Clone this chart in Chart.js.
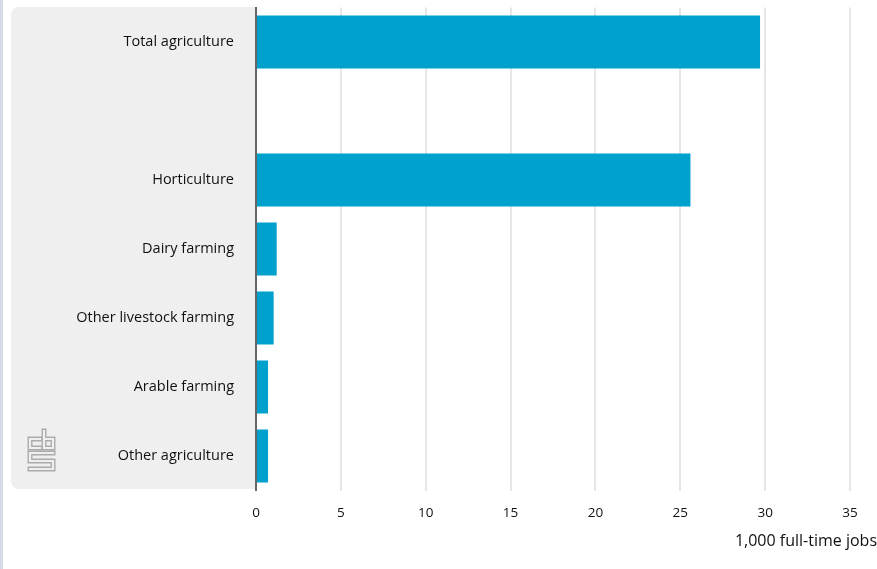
<!DOCTYPE html>
<html>
<head>
<meta charset="utf-8">
<script src="https://cdn.jsdelivr.net/npm/chart.js@4/dist/chart.umd.min.js"></script>
<style>
html,body{margin:0;padding:0;background:#fff;}
#wrap{width:877px;height:569px;position:relative;}
</style>
</head>
<body>
<div id="wrap"><canvas id="c" width="877" height="569"></canvas></div>
<script>
const categories = ['Total agriculture', '', 'Horticulture', 'Dairy farming', 'Other livestock farming', 'Arable farming', 'Other agriculture'];
const jobs = [29.7, null, 25.6, 1.22, 1.04, 0.71, 0.71];
const xTicks = [0, 5, 10, 15, 20, 25, 30, 35];
const axisTitle = '1,000 full-time jobs';

const FONT = '"Open Sans", Lato, sans-serif';

const decor = {
  id: 'decor',
  beforeDraw(chart) {
    const ctx = chart.ctx, a = chart.chartArea;
    ctx.save();
    // left stripe
    ctx.fillStyle = '#d3dce4';
    ctx.fillRect(0, 0, 3, chart.height);
    // gray label panel
    const x0 = 11, y0 = a.top - 0.5, x1 = a.left, y1 = a.bottom - 1.5, r = 8;
    ctx.fillStyle = '#efefef';
    ctx.beginPath();
    ctx.moveTo(x0 + r, y0);
    ctx.lineTo(x1, y0);
    ctx.lineTo(x1, y1);
    ctx.lineTo(x0 + r, y1);
    ctx.arcTo(x0, y1, x0, y1 - r, r);
    ctx.lineTo(x0, y0 + r);
    ctx.arcTo(x0, y0, x0 + r, y0, r);
    ctx.closePath();
    ctx.fill();
    // cbs logo
    const paths = [
      [[40,439],[30,439],[30,448],[40,448]],
      [[44,431],[44,448],[53,448],[53,439],[44,439]],
      [[53,453],[30,453],[30,461],[53,461],[53,469],[30,469]]
    ];
    ctx.lineJoin = 'miter';
    ctx.lineCap = 'square';
    [[ '#ababab', 5 ], [ '#efefef', 2.2 ]].forEach(([col, w]) => {
      ctx.strokeStyle = col; ctx.lineWidth = w;
      paths.forEach(p => {
        ctx.beginPath();
        p.forEach((pt, i) => i ? ctx.lineTo(pt[0], pt[1]) : ctx.moveTo(pt[0], pt[1]));
        ctx.stroke();
      });
    });
    ctx.restore();
  },
  afterDraw(chart) {
    const ctx = chart.ctx;
    ctx.save();
    ctx.font = '16px ' + FONT;
    ctx.fillStyle = '#111';
    ctx.textAlign = 'right';
    ctx.textBaseline = 'middle';
    ctx.fillText(axisTitle, 877, 541);
    ctx.restore();
  }
};

new Chart(document.getElementById('c'), {
  type: 'bar',
  data: {
    labels: categories,
    datasets: [{
      data: jobs,
      backgroundColor: '#00a1cd',
      borderWidth: 0,
      barPercentage: 0.77,
      categoryPercentage: 1
    }]
  },
  options: {
    indexAxis: 'y',
    responsive: false,
    animation: false,
    events: [],
    layout: { padding: { top: 7.5, right: 27, bottom: 0, left: 0 } },
    plugins: { legend: { display: false }, tooltip: { enabled: false } },
    scales: {
      x: {
        min: 0, max: 35,
        afterBuildTicks(s) { s.ticks = xTicks.map(v => ({ value: v })); },
        afterFit(s) { s.height = 78.5; s.paddingLeft = 0; s.paddingRight = 0; },
        grid: { color: '#e6e6e6', lineWidth: 2, drawTicks: false },
        border: { display: false },
        ticks: { padding: 15, color: '#111', font: { family: FONT, size: 13.5 } }
      },
      y: {
        afterFit(s) { s.width = 256; s.paddingTop = 0; s.paddingBottom = 0; },
        grid: { display: false, drawTicks: false },
        border: { display: true, color: '#666666', width: 2 },
        ticks: { padding: 22, color: '#111', font: { family: FONT, size: 14.5 } }
      }
    }
  },
  plugins: [decor]
});
</script>
</body>
</html>
